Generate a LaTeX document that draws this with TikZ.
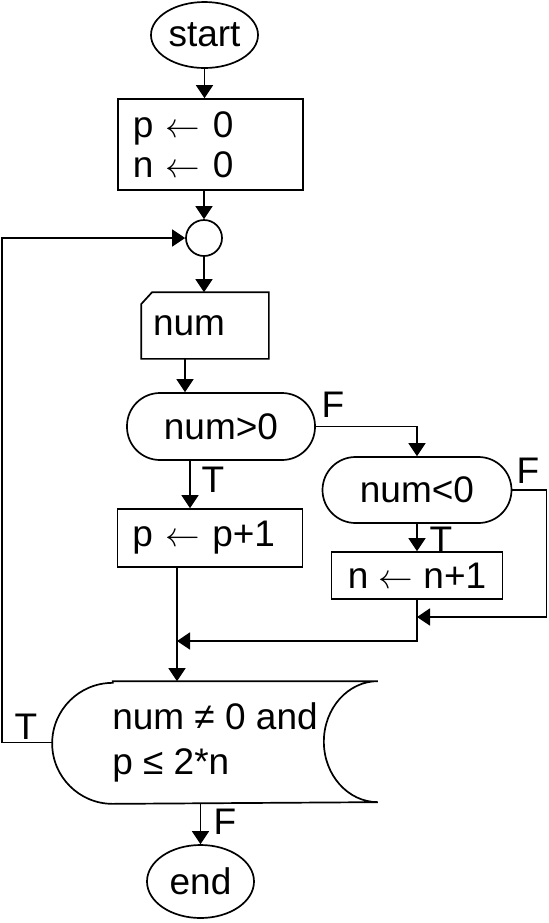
\documentclass[tikz,border=0pt]{standalone}
\usepackage{fontspec}
\setmainfont{Liberation Sans}
\usepackage{tikz}
\usetikzlibrary{positioning,shapes.geometric,arrows.meta}
\tikzset{
  termnode/.style={draw,ellipse,inner sep=0pt,
    minimum width=53.5pt,minimum height=33pt},
  assignnode/.style={draw,rectangle,inner xsep=7.5pt,
    text width=77.5pt,align=left},
  testnode/.style={draw,rectangle,rounded corners=16.5pt,inner sep=0pt,
    minimum width=94pt,minimum height=33.5pt},
  joinnode/.style={draw,circle,minimum size=18pt,inner sep=0pt},
  lbl/.style={inner sep=0pt},
  flow/.style={-{Triangle[length=6.5pt,width=8.5pt]}},
}
\newcommand{\getsarrow}{$\leftarrow$}

\begin{document}
\begin{tikzpicture}[x=0.5pt,y=0.5pt,line width=0.85pt,
  font=\fontsize{18.5}{20}\selectfont]
  \useasboundingbox (0,0) rectangle (548,-923);
  % Steps
  \node[termnode] (start) at (204.5,-35) {start};
  \node[assignnode,minimum height=45.5pt] (init) at (210.5,-144.5) {p \getsarrow{} 0\\n \getsarrow{} 0};
  \node[joinnode] (join) at (204,-238) {};
  \node[inner xsep=5.5pt,text width=52pt,minimum height=32.5pt,align=left] (num) at (205,-325.5) {num};
  \node[testnode] (pos) at (221,-426.5) {num>0};
  \node[testnode,minimum width=94.5pt,minimum height=33pt] (neg) at (417,-490) {num<0};
  \node[assignnode,minimum height=29pt] (incp) at (210,-538) {p \getsarrow{} p+1};
  \node[draw,minimum width=85.5pt,minimum height=23.5pt,inner sep=0pt] (incn) at (417,-575.5) {n \getsarrow{} n+1};
  \node[minimum width=162pt,minimum height=60.5pt,align=left] (cond) at (215,-742.5) {num ≠ 0 and\\[2.5pt]p ≤ 2*n};
  \node[termnode,minimum height=36.5pt] (stop) at (200.5,-881.5) {end};
  % Outlines
  \draw ([yshift=-6pt]num.north west) -- ([xshift=5.5pt]num.north west)
    -- (num.north east) -- (num.south east) -- (num.south west) -- cycle;
  \draw ([xshift=30.25pt]cond.north west) -- (cond.north east)
    arc[start angle=90,end angle=270,x radius=27pt,y radius=30.25pt]
    -- ([xshift=30.25pt]cond.south west)
    arc[start angle=270,end angle=90,radius=30.25pt] -- cycle;
  % Merge points
  \coordinate (pmerge) at (177,-641);
  \coordinate (fjoin) at (417,-617);
  % Labels
  \node[lbl] (posT) at (213,-480) {T};
  \node[lbl] (posF) at (333,-405) {F};
  \node[lbl] (negT) at (441,-540) {T};
  \node[lbl] (negF) at (528,-471) {F};
  \node[lbl] (loopT) at (26,-727) {T};
  \node[lbl] (condF) at (225,-822) {F};
  % Edges
  \draw[flow] (start.south) -- (start.south |- init.north);
  \draw[flow] (join.north |- init.south) -- (join.north);
  \draw[flow] (join.south) -- (join.south |- num.north);
  \draw[flow] ([xshift=-10pt]num.south) -- ([xshift=-10pt]num.south |- pos.north);
  \draw[flow] ([xshift=-10pt]incp.north |- pos.south) -- ([xshift=-10pt]incp.north);
  \draw[flow] (pos.east) -| (neg.north);
  \draw[flow] (neg.south) -- (neg.south |- incn.north);
  \draw[flow] (neg.east) -- ++(17pt,0) |- (fjoin);
  \draw[flow] (incn.south) |- (pmerge);
  \draw[flow] (pmerge |- incp.south) -- (pmerge |- cond.north);
  \draw[flow] (stop.north |- cond.south) -- (stop.north);
  \draw[flow] (cond.west) -- ++(-25pt,0) |- (join.west);
\end{tikzpicture}
\end{document}
